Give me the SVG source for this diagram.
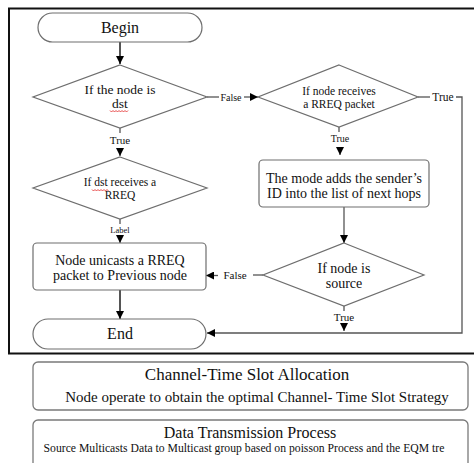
<svg xmlns="http://www.w3.org/2000/svg" width="474" height="463" viewBox="0 0 474 463">
  <defs>
    <marker id="arrow" viewBox="0 0 10 10" refX="10" refY="5" markerWidth="8" markerHeight="8" markerUnits="userSpaceOnUse" orient="auto">
      <path d="M0,0 L10,5 L0,10 Z" fill="#000"/>
    </marker>
  </defs>
  <style>
    text { font-family: 'Liberation Serif', 'DejaVu Serif', serif; fill: #111; text-anchor: middle; }
    .shape { fill: #fff; stroke: #6e6e6e; stroke-width: 1.2; }
    .panel { fill: #fff; stroke: #7a7a7a; stroke-width: 1.3; }
    .wire { fill: none; stroke: #555; stroke-width: 1.3; }
    .wire-bold { fill: none; stroke: #555; stroke-width: 2; }
    .frame { fill: none; stroke: #111; stroke-width: 2; }
    .t16 { font-size: 16px; }
    .t14 { font-size: 14px; }
    .t135 { font-size: 13.5px; }
    .t12 { font-size: 11.5px; }
    .t11 { font-size: 11px; }
    .t10 { font-size: 10px; }
    .t9 { font-size: 8.5px; }
    .squiggle { fill: none; stroke: #e02020; stroke-width: 0.8; }
  </style>

  <rect width="474" height="463" fill="#fff"/>

  <!-- frame around the routing flowchart -->
  <path class="frame" d="M474,8.5 L9,8.5 L9,353.5 L474,353.5"/>

  <!-- connectors -->
  <g id="connectors">
    <path class="wire-bold" d="M120,42 L120,64" marker-end="url(#arrow)"/>
    <path class="wire" d="M120,128 L120,133"/>
    <text class="t11" x="120" y="144">True</text>
    <path class="wire" d="M120,149 L120,156" marker-end="url(#arrow)"/>

    <path class="wire" d="M207,97 L219,97"/>
    <text class="t10" x="231" y="100.5">False</text>
    <path class="wire" d="M244,97 L258,97" marker-end="url(#arrow)"/>

    <path class="wire" d="M418,97 L430,97"/>
    <text class="t12" x="443" y="101">True</text>
    <path class="wire" d="M456,97 L462,97 L462,333 L207,333" marker-end="url(#arrow)"/>

    <path class="wire" d="M339,127 L339,132"/>
    <text class="t10" x="340" y="142">True</text>
    <path class="wire" d="M340,147 L340,155" marker-end="url(#arrow)"/>

    <path class="wire" d="M344,207 L344,243" marker-end="url(#arrow)"/>

    <path class="wire" d="M120,219 L120,224"/>
    <text class="t9" x="120" y="233">Label</text>
    <path class="wire" d="M120,236 L120,243" marker-end="url(#arrow)"/>

    <path class="wire" d="M263,275 L253,275"/>
    <text class="t11" x="235" y="279">False</text>
    <path class="wire" d="M218,275.5 L206,275.5" marker-end="url(#arrow)"/>

    <path class="wire" d="M344,306 L344,311"/>
    <text class="t11" x="344" y="321">True</text>
    <path class="wire" d="M344,324 L344,331" marker-end="url(#arrow)"/>

    <path class="wire-bold" d="M120,290 L120,319" marker-end="url(#arrow)"/>
  </g>

  <!-- nodes -->
  <g id="begin">
    <rect class="shape" x="38" y="13" width="164" height="29" rx="14.5"/>
    <text class="t16" x="120" y="32.5">Begin</text>
  </g>

  <g id="is-dst">
    <polygon class="shape" points="120,65 207,97 120,128 33,97"/>
    <text class="t135" x="120" y="94">If the node is</text>
    <text class="t135" x="120" y="108">dst</text>
    <path class="squiggle" d="M110,110.5 l1.5,1.5 l1.5,-1.5 l1.5,1.5 l1.5,-1.5 l1.5,1.5 l1.5,-1.5 l1.5,1.5 l1.5,-1.5 l1.5,1.5 l1.5,-1.5 l1.5,1.5 l1.5,-1.5"/>
  </g>

  <g id="receives-rreq">
    <polygon class="shape" points="339,65 418,97 339,127 258,97"/>
    <text class="t12" x="339" y="94.5">If node receives</text>
    <text class="t12" x="339" y="107.5">a RREQ packet</text>
  </g>

  <g id="add-sender">
    <rect class="shape" x="259" y="160" width="170" height="47" rx="4"/>
    <text class="t14" x="344" y="183">The mode adds the sender’s</text>
    <text class="t14" x="344" y="197.5">ID into the list of next hops</text>
  </g>

  <g id="dst-receives">
    <polygon class="shape" points="120,157 207,188 120,219 33,188"/>
    <text class="t12" x="120" y="186">If dst receives a</text>
    <text class="t12" x="120" y="199">RREQ</text>
    <path class="squiggle" d="M92,189.5 l1.5,1.5 l1.5,-1.5 l1.5,1.5 l1.5,-1.5 l1.5,1.5 l1.5,-1.5 l1.5,1.5 l1.5,-1.5 l1.5,1.5 l1.5,-1.5 l1.5,1.5"/>
  </g>

  <g id="is-source">
    <polygon class="shape" points="344,243 424,275 344,306 263,275"/>
    <text class="t14" x="344" y="273">If node is</text>
    <text class="t14" x="344" y="287.5">source</text>
  </g>

  <g id="unicast">
    <rect class="shape" x="33" y="243" width="173" height="47" rx="4"/>
    <text class="t14" x="120" y="265">Node unicasts a RREQ</text>
    <text class="t14" x="120" y="280">packet to Previous node</text>
  </g>

  <g id="end">
    <rect class="shape" x="33" y="319" width="173" height="30" rx="15"/>
    <text class="t16" x="120" y="338.5">End</text>
  </g>

  <!-- stages below the flowchart -->
  <g id="slot-allocation">
    <rect class="panel" x="33" y="362" width="435" height="48" rx="5"/>
    <text x="247" y="380" style="font-size:17px">Channel-Time Slot Allocation</text>
    <text x="257" y="401.5" style="font-size:15px">Node operate to obtain the optimal Channel- Time Slot Strategy</text>
  </g>

  <g id="data-transmission">
    <rect class="panel" x="33" y="420" width="435" height="60" rx="5"/>
    <text x="250" y="438" style="font-size:16px">Data Transmission Process</text>
    <text x="244" y="452" style="font-size:11.7px">Source Multicasts Data to Multicast group based on poisson Process and the EQM tre</text>
  </g>
</svg>
